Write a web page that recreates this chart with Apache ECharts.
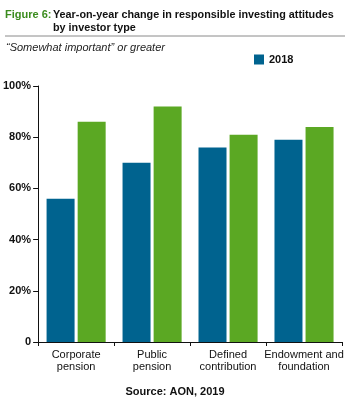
<!DOCTYPE html>
<html>
<head>
<meta charset="utf-8">
<script src="https://cdn.jsdelivr.net/npm/echarts@6/dist/echarts.min.js"></script>
<style>
  html, body { margin: 0; padding: 0; background: #fff; }
  #chart { width: 350px; height: 400px; }
</style>
</head>
<body>
<div id="chart"></div>
<script>
// chart data
var categories = ['Corporate\npension', 'Public\npension', 'Defined\ncontribution', 'Endowment and\nfoundation']
var values2018 = [56, 70, 76, 79]
var valuesOther = [86, 92, 81, 84]
var yTicks = [0, 20, 40, 60, 80, 100]

var myChart = echarts.init(document.getElementById('chart'))
var font = 'Liberation Sans, Arial, sans-serif'

var option = {
  animation: false,
  textStyle: { fontFamily: font },
  graphic: [
    { type: 'text', left: 5, top: 9, style: { text: 'Figure 6:', font: 'bold 11px ' + font, fill: '#3b8c1e' } },
    { type: 'text', left: 53, top: 9, style: { text: 'Year-on-year change in responsible investing attitudes\nby investor type', font: 'bold 10.8px ' + font, fill: '#111', lineHeight: 13 } },
    { type: 'line', shape: { x1: 5, y1: 36, x2: 345, y2: 36 }, style: { stroke: '#8a8a8a', lineWidth: 1 } },
    { type: 'text', left: 6, top: 42, style: { text: '\u201cSomewhat important\u201d or greater', font: 'italic 11px ' + font, fill: '#222' } },
    { type: 'text', left: 'center', top: 386, style: { text: 'Source: AON, 2019', font: 'bold 11px ' + font, fill: '#111' } }
  ],
  legend: {
    data: ['2018'],
    left: 254,
    top: 54,
    padding: 0,
    icon: 'rect',
    itemWidth: 10,
    itemHeight: 10,
    itemGap: 6,
    textStyle: { fontWeight: 'bold', fontSize: 11, color: '#111', fontFamily: font }
  },
  grid: { left: 34, right: 8, top: 86, bottom: 58, containLabel: false },
  xAxis: {
    type: 'category',
    data: categories,
    axisLine: { lineStyle: { color: '#111', width: 1 } },
    axisTick: { show: true, length: 4, lineStyle: { color: '#111' } },
    axisLabel: { color: '#111', fontSize: 11, lineHeight: 12, margin: 7, interval: 0, fontFamily: font }
  },
  yAxis: {
    type: 'value',
    min: 0,
    max: 100,
    interval: 20,
    splitLine: { show: false },
    axisLine: { show: true, lineStyle: { color: '#111', width: 1 } },
    axisTick: { show: true, length: 5, lineStyle: { color: '#111' } },
    axisLabel: {
      color: '#111', fontSize: 11, fontWeight: 'bold', margin: 7, fontFamily: font,
      formatter: function (v) { return v === yTicks[0] ? '0' : v + '%' }
    }
  },
  series: [
    {
      name: '2018',
      type: 'bar',
      data: values2018,
      barWidth: 28,
      barGap: '11%',
      itemStyle: { color: '#00638f' }
    },
    {
      name: '2019',
      type: 'bar',
      data: valuesOther,
      barWidth: 28,
      itemStyle: { color: '#5ba823' }
    }
  ]
}
myChart.setOption(option)
</script>
</body>
</html>
